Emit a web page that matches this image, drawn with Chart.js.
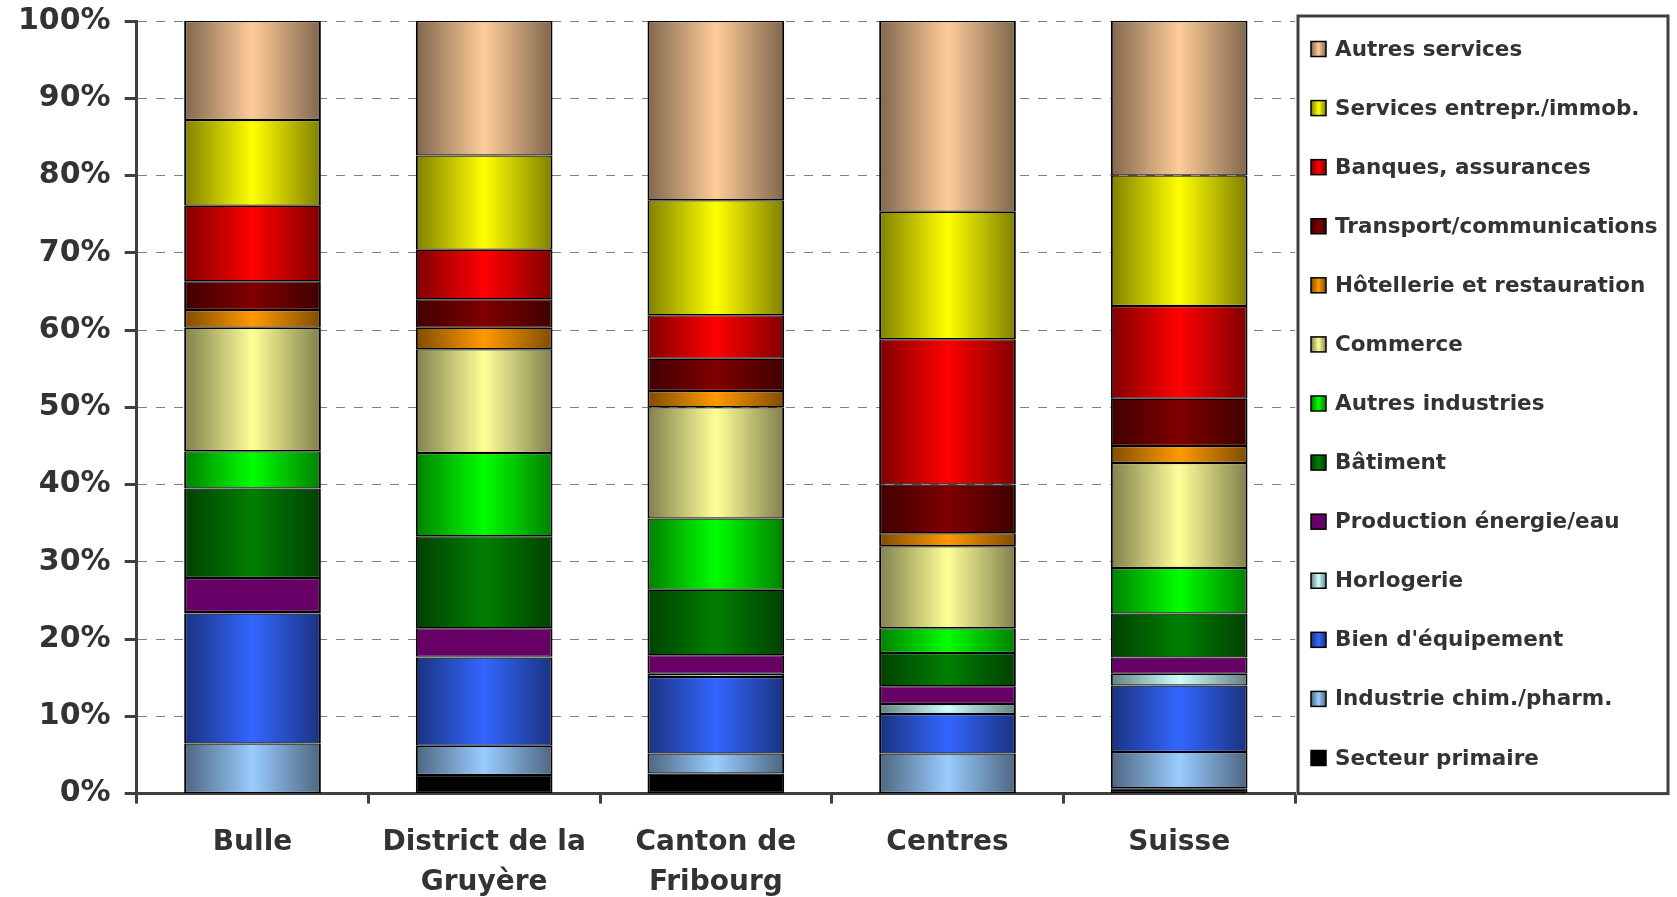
<!DOCTYPE html>
<html>
<head>
<meta charset="utf-8">
<script src="https://cdn.jsdelivr.net/npm/chart.js@4.4.0/dist/chart.umd.min.js"></script>
<style>
  html, body { margin: 0; padding: 0; background: #fff; }
</style>
</head>
<body>
<canvas id="myChart" width="1677" height="897"></canvas>
<script>
// categories (multi-line labels)
const labels = [['Bulle'], ['District de la', 'Gruyère'], ['Canton de', 'Fribourg'], ['Centres'], ['Suisse']];

// shares in % (bottom to top)
const primaire   = [0,    2.4,  2.6,  0,    0.7];
const chimie     = [6.5,  3.8,  2.6,  5.2,  4.7];
const equipement = [16.8, 11.4, 9.9,  5.1,  8.6];
const horlogerie = [0.2,  0.1,  0.4,  1.3,  1.5];
const energie    = [4.4,  3.7,  2.4,  2.3,  2.1];
const batiment   = [11.6, 11.9, 8.5,  4.3,  5.7];
const autresInd  = [4.8,  10.8, 9.2,  3.2,  5.9];
const commerce   = [16.0, 13.4, 14.4, 10.6, 13.6];
const hotellerie = [2.3,  2.8,  2.1,  1.7,  2.2];
const transport  = [3.7,  3.7,  4.2,  6.3,  6.1];
const banques    = [9.8,  6.4,  5.6,  18.8, 12.0];
const servEntr   = [11.1, 12.2, 14.9, 16.5, 16.9];
const autresServ = [12.8, 17.4, 23.2, 24.7, 20.0];

const yTicks = [0, 10, 20, 30, 40, 50, 60, 70, 80, 90, 100];

const textColor = '#333333';
const axisColor = '#404040';
const fontFamily = '"DejaVu Sans", Verdana, sans-serif';
const barPct = 0.59;

function shade(hex, f) {
    const n = parseInt(hex.slice(1), 16);
    const r = Math.round(((n >> 16) & 255) * f);
    const g = Math.round(((n >> 8) & 255) * f);
    const b = Math.round((n & 255) * f);
    return 'rgb(' + r + ',' + g + ',' + b + ')';
}

function makeGradient(ctx, left, right, base, flat) {
    if (flat) return base;
    const g = ctx.createLinearGradient(left, 0, right, 0);
    g.addColorStop(0, shade(base, 0.5));
    g.addColorStop(0.5, base);
    g.addColorStop(1, shade(base, 0.5));
    return g;
}

function barFill(base, flat) {
    return function (context) {
        const chart = context.chart;
        const xs = chart.scales.x;
        if (flat || context.type !== 'data' || !chart.chartArea || !xs) return base;
        const w = xs.width / labels.length * barPct;
        const cx = xs.getPixelForValue(context.dataIndex);
        return makeGradient(chart.ctx, cx - w / 2, cx + w / 2, base, false);
    };
}

function series(label, data, color, flat) {
    return {
        label: label,
        data: data,
        baseColor: color,
        flat: !!flat,
        backgroundColor: barFill(color, flat),
        borderColor: '#000000',
        borderWidth: { left: 2, right: 2, top: 1.25, bottom: 1.25 },
        borderSkipped: false
    };
}

const datasets = [
    series('Secteur primaire', primaire, '#000000', true),
    series('Industrie chim./pharm.', chimie, '#99CCFF'),
    series("Bien d'équipement", equipement, '#3366FF'),
    series('Horlogerie', horlogerie, '#CCFFFF'),
    series('Production énergie/eau', energie, '#660066', true),
    series('Bâtiment', batiment, '#008000'),
    series('Autres industries', autresInd, '#00FF00'),
    series('Commerce', commerce, '#FFFF99'),
    series('Hôtellerie et restauration', hotellerie, '#FF9900'),
    series('Transport/communications', transport, '#800000'),
    series('Banques, assurances', banques, '#FF0000'),
    series('Services entrepr./immob.', servEntr, '#FFFF00'),
    series('Autres services', autresServ, '#FFCC99')
];

// legend in a framed box on the right
const boxLegend = {
    id: 'boxLegend',
    afterDraw(chart) {
        const ctx = chart.ctx;
        const area = chart.chartArea;
        const x0 = area.right + 3, y0 = 16, x1 = 1668, y1 = area.bottom;
        ctx.save();
        ctx.lineWidth = 3;
        ctx.strokeStyle = axisColor;
        ctx.strokeRect(x0, y0, x1 - x0, y1 - y0);

        const items = chart.data.datasets.slice().reverse();
        const step = (758 - 49) / (items.length - 1);
        ctx.font = 'bold 21.5px ' + fontFamily;
        ctx.textBaseline = 'middle';
        ctx.textAlign = 'left';
        items.forEach((ds, i) => {
            const cy = 49 + i * step;
            const bx = x0 + 13, size = 15;
            ctx.fillStyle = makeGradient(ctx, bx, bx + size, ds.baseColor, ds.flat);
            ctx.fillRect(bx, cy - size / 2, size, size);
            ctx.lineWidth = 1.5;
            ctx.strokeStyle = '#000000';
            ctx.strokeRect(bx, cy - size / 2, size, size);
            ctx.fillStyle = textColor;
            ctx.fillText(ds.label, x0 + 37, cy + 1);
        });
        ctx.restore();
    }
};

const config = {
    type: 'bar',
    data: { labels: labels, datasets: datasets },
    options: {
        responsive: false,
        animation: false,
        devicePixelRatio: 1,
        datasets: { bar: { categoryPercentage: 1, barPercentage: barPct } },
        layout: { padding: { left: 4, right: 382, top: 21, bottom: -25 } },
        plugins: { legend: { display: false }, tooltip: { enabled: false } },
        scales: {
            x: {
                stacked: true,
                grid: {
                    display: true,
                    drawOnChartArea: false,
                    drawTicks: true,
                    tickLength: 10,
                    tickColor: axisColor,
                    tickWidth: 3
                },
                border: { display: true, color: axisColor, width: 3 },
                ticks: {
                    color: textColor,
                    padding: 20,
                    maxRotation: 0,
                    autoSkip: false,
                    font: { family: fontFamily, size: 28, weight: 'bold', lineHeight: 1.4 }
                }
            },
            y: {
                stacked: true,
                min: 0,
                max: 100,
                afterBuildTicks: (scale) => { scale.ticks = yTicks.map(v => ({ value: v })); },
                grid: {
                    color: '#808080',
                    lineWidth: 1,
                    drawTicks: true,
                    tickLength: 12,
                    tickColor: axisColor,
                    tickWidth: 3,
                    tickBorderDash: []
                },
                border: { display: true, color: axisColor, width: 3, dash: [9, 9] },
                ticks: {
                    color: textColor,
                    padding: 14,
                    callback: (v) => v + '%',
                    font: { family: fontFamily, size: 30, weight: 'bold', lineHeight: 0.4 }
                }
            }
        }
    },
    plugins: [boxLegend]
};

var myChart = new Chart(
    document.getElementById('myChart'),
    config
);
</script>
</body>
</html>
